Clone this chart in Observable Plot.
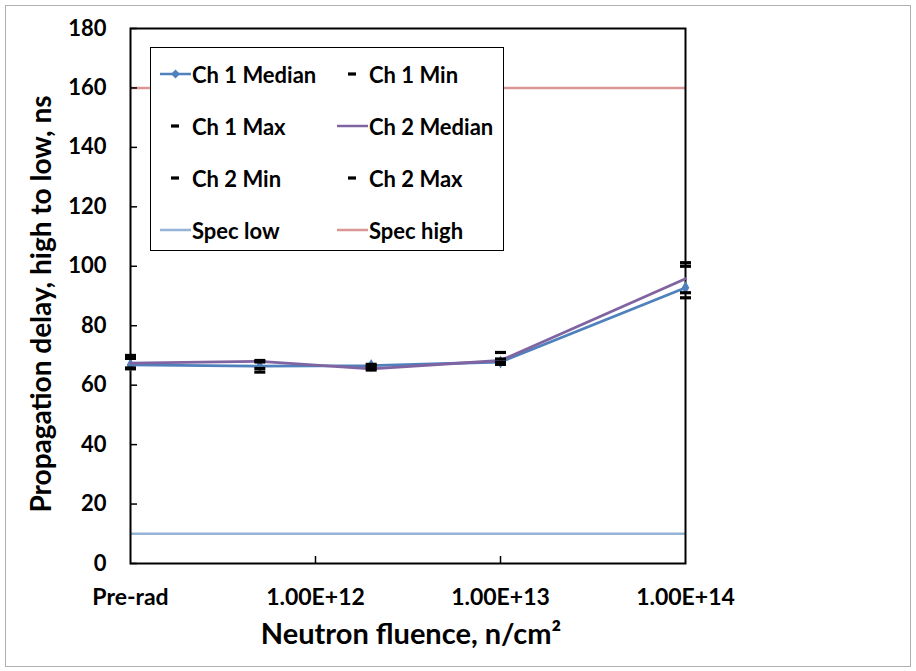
<!DOCTYPE html>
<html>
<head>
<meta charset="utf-8">
<script src="https://cdn.jsdelivr.net/npm/d3@7"></script>
<script src="https://cdn.jsdelivr.net/npm/@observablehq/plot@0.6"></script>
<style>
  html, body { margin: 0; padding: 0; background: #fff; }
  #wrap { position: relative; width: 916px; height: 671px; font-family: Lato, "Open Sans", sans-serif; }
  #border { position: absolute; left: 5px; top: 5px; width: 904px; height: 660px; border: 1px solid #b0b0b0; pointer-events: none; }
  #legend { position: absolute; left: 150px; top: 47px; width: 352px; height: 202px; border: 1.5px solid #000; background: #fff; }
  .item { position: absolute; height: 30px; display: flex; align-items: center; font-weight: 700; font-size: 22px; color: #000; white-space: nowrap; }
  .item svg { flex: none; }
</style>
</head>
<body>
<div id="wrap"></div>
<script>
// ---- data ----
const categories = ["Pre-rad", "5.00E+11", "2.00E+12", "1.00E+13", "1.00E+14"];
const fluence = [1e11, 5e11, 2e12, 1e13, 1e14]; // Pre-rad drawn at the 1e11 position
const ch1Median = [66.8, 66.4, 66.6, 67.8, 92.8];
const ch2Median = [67.4, 68.0, 65.5, 68.3, 95.8];
const ch1Min = [65.5, 65.6, 65.8, 67.0, 91.1];
const ch1Max = [70.0, 68.3, 67.0, 68.8, 100.0];
const ch2Min = [65.8, 64.4, 65.1, 67.6, 89.4];
const ch2Max = [69.0, 67.8, 66.5, 71.0, 101.2];
const specLow = 10;
const specHigh = 160;
const yTicks = [0, 20, 40, 60, 80, 100, 120, 140, 160, 180];
const xTicks = [1e11, 1e12, 1e13, 1e14];
const xTickLabels = ["Pre-rad", "1.00E+12", "1.00E+13", "1.00E+14"];

const rows = fluence.map((f, i) => ({
  f, cat: categories[i],
  ch1: ch1Median[i], ch2: ch2Median[i],
  ch1Min: ch1Min[i], ch1Max: ch1Max[i], ch2Min: ch2Min[i], ch2Max: ch2Max[i]
}));
const ends = [];
rows.forEach(r => {
  ends.push({f: r.f, v: r.ch1Min}, {f: r.f, v: r.ch1Max}, {f: r.f, v: r.ch2Min}, {f: r.f, v: r.ch2Max});
});

const dash = { draw(ctx) { ctx.rect(-5.5, -1.6, 11, 3.2); } };

const W = 916, H = 671, mL = 130, mR = 231, mT = 28, mB = 108;
const plotW = W - mL - mR, plotH = H - mT - mB;
const font = "Lato, 'Open Sans', sans-serif";

const chart = Plot.plot({
  width: W, height: H,
  marginLeft: mL, marginRight: mR, marginTop: mT, marginBottom: mB,
  style: { fontFamily: font, color: "#000", background: "transparent", overflow: "visible" },
  x: { type: "log", domain: [1e11, 1e14] },
  y: { domain: [0, 180] },
  marks: [
    Plot.ruleY([specLow], { stroke: "#95b3d7", strokeWidth: 2.5 }),
    Plot.ruleY([specHigh], { stroke: "#d99694", strokeWidth: 2.5 }),
    Plot.frame({ stroke: "#000", strokeWidth: 2 }),
    Plot.tickY(yTicks, { y: d => d, insetRight: plotW - 7, stroke: "#000", strokeWidth: 1.5 }),
    Plot.tickX([1e12, 1e13], { x: d => d, insetTop: plotH - 7, stroke: "#000", strokeWidth: 1.5 }),
    Plot.axisY({ ticks: yTicks, tickSize: 0, tickPadding: 24, fontSize: 22, fontWeight: "bold", label: null }),
    Plot.axisX({ ticks: xTicks, tickSize: 0, tickPadding: 25, fontSize: 23, fontWeight: "bold", label: null,
      tickFormat: d => xTickLabels[xTicks.indexOf(d)] }),
    Plot.line(rows, { x: "f", y: "ch1", stroke: "#4f81bd", strokeWidth: 2.8 }),
    Plot.dot(rows, { x: "f", y: "ch1", symbol: "diamond", r: 4, fill: "#4f81bd", stroke: null }),
    Plot.line(rows, { x: "f", y: "ch2", stroke: "#8064a2", strokeWidth: 2.8 }),
    Plot.dot(ends, { x: "f", y: "v", symbol: dash, fill: "#000", stroke: null }),
    Plot.text(["Propagation delay, high to low, ns"], { frameAnchor: "left", textAnchor: "middle", rotate: -90, dx: -88, dy: 8,
      fontSize: 28, fontWeight: "bold", fill: "#000" }),
    Plot.text(["Neutron fluence, n/cm²"], { frameAnchor: "bottom", textAnchor: "middle", dy: 80, dx: 3,
      fontSize: 29, fontWeight: "bold", fill: "#000" })
  ]
});

const wrap = document.getElementById("wrap");
wrap.appendChild(chart);
chart.style.position = "absolute"; chart.style.left = "0"; chart.style.top = "0";

const border = document.createElement("div"); border.id = "border"; wrap.appendChild(border);

// ---- legend ----
const legendItems = [
  { label: "Ch 1 Median", kind: "lineDiamond", color: "#4f81bd" },
  { label: "Ch 1 Min", kind: "dash", color: "#000" },
  { label: "Ch 1 Max", kind: "dash", color: "#000" },
  { label: "Ch 2 Median", kind: "line", color: "#8064a2" },
  { label: "Ch 2 Min", kind: "dash", color: "#000" },
  { label: "Ch 2 Max", kind: "dash", color: "#000" },
  { label: "Spec low", kind: "line", color: "#95b3d7" },
  { label: "Spec high", kind: "line", color: "#d99694" }
];
const legend = document.createElement("div"); legend.id = "legend"; wrap.appendChild(legend);
legendItems.forEach((it, i) => {
  const col = i % 2, row = Math.floor(i / 2);
  const el = document.createElement("div"); el.className = "item";
  el.style.left = (col === 0 ? 9 : 186) + "px";
  el.style.top = (11 + row * 52) + "px";
  let sw = "";
  if (it.kind === "lineDiamond") sw = `<line x1="0" y1="15" x2="31" y2="15" stroke="${it.color}" stroke-width="2.5"/><path d="M15.5 10.5 L20 15 L15.5 19.5 L11 15 Z" fill="${it.color}"/>`;
  else if (it.kind === "line") sw = `<line x1="0" y1="15" x2="31" y2="15" stroke="${it.color}" stroke-width="2.5"/>`;
  else sw = `<rect x="11" y="13.4" width="8" height="3.2" fill="${it.color}"/>`;
  el.innerHTML = `<svg width="31" height="30">${sw}</svg><span style="margin-left:1px">${it.label}</span>`;
  legend.appendChild(el);
});
</script>
</body>
</html>
